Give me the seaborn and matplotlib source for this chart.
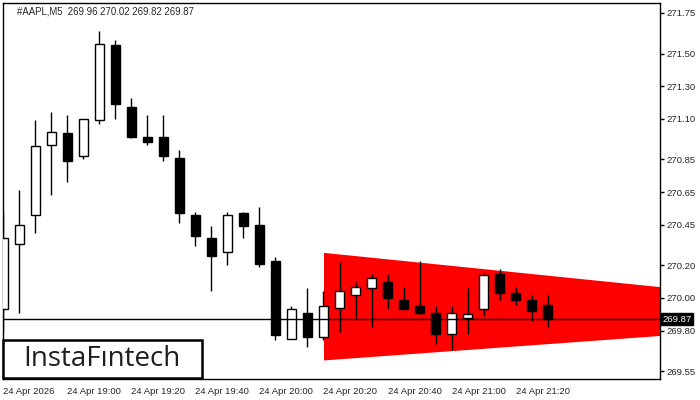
import numpy as np
import seaborn as sns
import matplotlib.pyplot as plt
from matplotlib.patches import Rectangle

# M5 candles, 24 Apr 18:40 .. 21:30
title = "#AAPL,M5  269.96 270.02 269.82 269.87"
opens = [269.93, 270.33, 270.51, 270.94, 271.01, 270.87, 271.09, 271.55, 271.17, 270.99,
         270.99, 270.86, 270.51, 270.37, 270.28, 270.52, 270.45, 270.23, 269.75, 269.91,
         269.76, 269.94, 270.02, 270.06, 270.10, 269.99, 269.95, 269.91, 269.78, 269.88,
         269.93, 270.15, 270.03, 269.99, 269.96]
highs = [270.53, 270.66, 271.09, 271.14, 271.12, 271.10, 271.64, 271.58, 271.23, 271.12,
         271.12, 270.91, 270.53, 270.44, 270.53, 270.53, 270.56, 270.25, 269.95, 270.06,
         270.04, 270.22, 270.10, 270.15, 270.15, 270.07, 270.23, 269.95, 269.95, 270.06,
         270.15, 270.18, 270.07, 270.02, 270.02]
lows = [269.79, 269.91, 270.40, 270.63, 270.71, 270.85, 271.07, 271.10, 270.98, 270.94,
        270.84, 270.46, 270.32, 270.04, 270.20, 270.37, 270.19, 269.74, 269.75, 269.70,
        269.74, 269.79, 269.88, 269.82, 269.93, 269.93, 269.90, 269.72, 269.68, 269.78,
        269.89, 269.99, 269.96, 269.86, 269.82]
closes = [270.37, 270.45, 270.93, 271.02, 270.84, 271.10, 271.56, 271.19, 270.99, 270.96,
          270.87, 270.52, 270.38, 270.26, 270.51, 270.44, 270.21, 269.77, 269.93, 269.76,
          269.95, 270.04, 270.07, 270.12, 270.00, 269.93, 269.91, 269.78, 269.91, 269.90,
          270.14, 270.03, 269.99, 269.92, 269.87]

x_labels = ["24 Apr 2026", "24 Apr 19:00", "24 Apr 19:20", "24 Apr 19:40", "24 Apr 20:00",
            "24 Apr 20:20", "24 Apr 20:40", "24 Apr 21:00", "24 Apr 21:20"]
y_ticks = [269.55, 269.80, 270.00, 270.20, 270.45, 270.65, 270.85, 271.10, 271.30, 271.50, 271.75]
current_price = 269.87

# triangle pattern (bar index, upper / lower edge)
tri_x = [20, 41]
tri_top = [270.28, 270.07]
tri_bottom = [269.62, 269.77]

sns.set_style("white")
plt.rcParams['font.family'] = ['Liberation Sans', 'DejaVu Sans']

fig = plt.figure(figsize=(7, 4), dpi=100)
ax = fig.add_axes([3 / 700, 21 / 400, 657 / 700, 376 / 400])

idx = np.arange(len(opens))
o = np.array(opens)
c = np.array(closes)
up = c >= o

ax.fill_between(tri_x, tri_bottom, tri_top, color="#ff0000", lw=0, zorder=1)

ax.vlines(idx, lows, highs, color="black", lw=1, zorder=2)
body_low = np.minimum(o, c)
body_h = np.abs(c - o)
colors = np.where(up, "white", "black")
ax.bar(idx, body_h, bottom=body_low, width=0.56, color=colors,
       edgecolor="black", linewidth=1, zorder=3)

ax.axhline(current_price, color="black", lw=1, zorder=4)

ax.set_xlim(-0.03, 41.03)
ax.set_ylim(269.503, 271.81)

ax.set_xticks(np.arange(0, 4 * len(x_labels), 4))
ax.set_xticklabels(x_labels, ha="left", fontsize=6.8)
ax.yaxis.tick_right()
ax.set_yticks(y_ticks)
ax.set_yticklabels([f"{v:.2f}" for v in y_ticks], fontsize=6.8)
ax.tick_params(axis="both", direction="out", length=3, width=1, color="black", pad=2)
ax.tick_params(axis="x", pad=3)
for s in ax.spines.values():
    s.set_color("black")
    s.set_linewidth(1)

ax.annotate(f"{current_price:.2f}", xy=(1, current_price),
            xycoords=("axes fraction", "data"), xytext=(2, 0), textcoords="offset points",
            ha="left", va="center", fontsize=6.8, color="white",
            bbox=dict(boxstyle="square,pad=0.15", fc="black", ec="black"))

fig.text(17 / 700, 1 - 11 / 400, title, fontsize=6.9, va="center", ha="left")

logo = Rectangle((3 / 700, 22 / 400), 199 / 700, 38 / 400, transform=fig.transFigure,
                 facecolor="white", edgecolor="black", linewidth=1.8, zorder=10)
fig.patches.append(logo)
fig.text(102 / 700, 1 - 359 / 400, "InstaF\u0131ntech", fontsize=20, family="Open Sans",
         weight="medium", color="#1e1e1e", ha="center", va="center", zorder=11)

fig.savefig("out.png", dpi=100)
